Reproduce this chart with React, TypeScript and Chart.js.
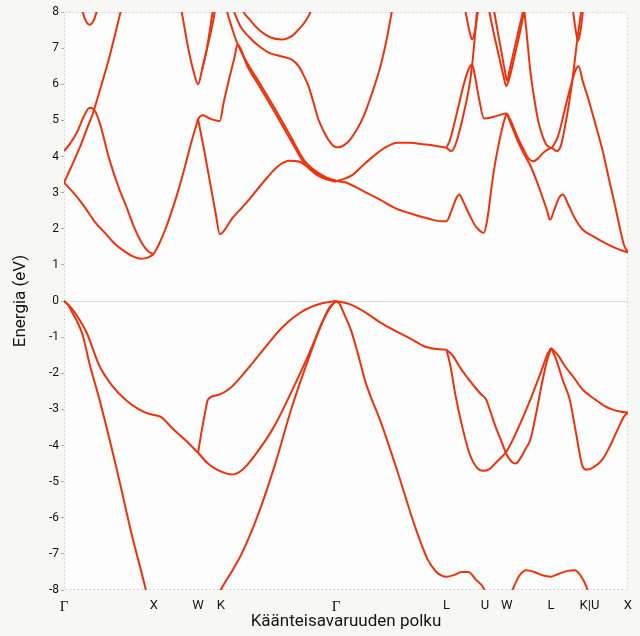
import React, { useEffect, useRef } from 'react';
import { Chart, registerables } from 'chart.js';

Chart.register(...registerables);

// k-path positions (path units) and labels of the high-symmetry points
const kPos = [0, 91, 136, 159, 276, 388, 427, 449, 494, 533, 572];
const kLabels = ['Γ', 'X', 'W', 'K', 'Γ', 'L', 'U', 'W', 'L', 'K|U', 'X'];

const eMin = -8;
const eMax = 8;

// ---- valence bands: [k, E (eV)] ----
const vA = [[0,0],[6,-0.15],[13,-0.4],[23,-0.88],[36,-1.8],[49,-2.35],[63,-2.75],[76,-3.0],[86,-3.12],[94,-3.17],[99,-3.22],[104,-3.35],[111,-3.55],[123,-3.85],[136,-4.2]];
const vG = [[0,0],[4,-0.1],[8,-0.3],[13,-0.55],[19,-0.95],[26,-1.75],[36,-2.73],[53,-4.6],[69,-6.5],[83,-8.0],[86,-8.4]];
const vB = [[136,-4.2],[139,-3.7],[143,-3.1],[146,-2.73],[156,-2.6],[169,-2.4],[181,-2.05],[201,-1.39],[221,-0.74],[241,-0.3],[261,-0.07],[276,0]];
const vC = [[136,-4.2],[146,-4.5],[156,-4.68],[171,-4.8],[181,-4.67],[194,-4.26],[214,-3.43],[234,-2.32],[248,-1.49],[261,-0.65],[269,-0.19],[276,0]];
const vD = [[154,-8.3],[159,-8.0],[171,-7.45],[181,-6.95],[198,-5.83],[214,-4.53],[231,-2.95],[248,-1.6],[261,-0.65],[271,-0.14],[276,0]];
const vE = [[276,0],[291,-0.1],[306,-0.32],[321,-0.6],[339,-0.87],[354,-1.08],[366,-1.26],[378,-1.33],[388,-1.35]];
const vF = [[276,0],[280,-0.1],[284,-0.35],[291,-0.8],[298,-1.45],[306,-2.26],[322,-3.4],[338,-4.7],[356,-6.24],[369,-7.16],[377,-7.48],[383,-7.6],[388,-7.63],[396,-7.58],[403,-7.5],[410,-7.5],[418,-7.72],[426,-7.97],[430,-8.3]];
const vH = [[451,-8.3],[455,-8.0],[462,-7.6],[469,-7.45],[477,-7.5],[486,-7.6],[494,-7.63],[502,-7.55],[511,-7.47],[518,-7.45],[524,-7.6],[530,-7.92],[534,-8.3]];
const vLA = [[388,-1.35],[394,-1.5],[402,-1.85],[410,-2.15],[416,-2.36],[423,-2.58],[428,-2.72],[433,-3.1],[438,-3.5],[443,-3.84],[449,-4.25],[454,-4.45],[458,-4.5],[463,-4.35],[468,-4.1],[473,-3.84],[479,-3.1],[485,-2.25],[490,-1.65],[494,-1.3]];
const vLB = [[388,-1.35],[392,-1.8],[397,-2.6],[403,-3.37],[411,-4.2],[419,-4.62],[425,-4.7],[431,-4.66],[439,-4.45],[449,-4.16],[461,-3.5],[473,-2.73],[484,-1.95],[490,-1.5],[494,-1.3]];
const vKC = [[494,-1.3],[499,-1.6],[506,-2.2],[513,-2.73],[519,-3.6],[526,-4.58],[530,-4.67],[536,-4.62],[546,-4.39],[555,-3.95],[563,-3.47],[568,-3.2],[572,-3.09]];
const vKD = [[494,-1.3],[501,-1.5],[508,-1.8],[516,-2.08],[526,-2.45],[539,-2.73],[548,-2.9],[556,-3.0],[564,-3.06],[572,-3.09]];

// ---- conduction bands: [k, E (eV)] ----
const c1 = [[0,3.28],[11,2.95],[21,2.6],[31,2.2],[41,1.9],[51,1.6],[61,1.38],[71,1.22],[78,1.17],[85,1.2],[91,1.3]];
const c2 = [[0,4.15],[6,4.35],[13,4.66],[20,5.1],[26,5.35],[31,5.28],[36,4.95],[46,3.92],[56,3.1],[63,2.63],[71,2.05],[78,1.65],[86,1.36],[91,1.3]];
const c3 = [[0,3.28],[8,3.75],[16,4.25],[23,4.75],[29,5.17],[36,5.8],[46,6.75],[52,7.4],[58,8.07],[60,8.3]];
const c4 = [[14,8.6],[18,8.1],[22,7.76],[26,7.65],[30,7.76],[34,8.1],[38,8.6]];
const c5 = [[91,1.3],[96,1.55],[103,2.0],[113,2.8],[121,3.55],[129,4.38],[134,4.85],[136,5.03],[141,5.14],[148,5.05],[154,5.0],[158,4.98],[162,5.5],[168,6.2],[173,6.75],[176,7.1],[186,6.5],[198,5.95],[214,5.22],[231,4.4],[244,3.8],[256,3.5],[266,3.37],[276,3.3]];
const c6 = [[116,8.4],[119,8.05],[126,7.0],[131,6.4],[136,6.0],[140,6.4],[145,7.0],[151,8.05],[153,8.4]];
const c6b = [[140,6.4],[146,7.1],[152,7.85],[155,8.4]];
const c7 = [[162,8.4],[165,8.05],[171,7.5],[176,7.12],[186,6.58],[198,6.05],[214,5.32],[231,4.5],[244,3.88],[256,3.58],[266,3.42],[276,3.33]];
const c8 = [[136,5.03],[142,4.2],[148,3.3],[154,2.4],[158,1.85],[171,2.3],[186,2.75],[204,3.35],[218,3.75],[229,3.88],[238,3.86],[248,3.7],[258,3.52],[268,3.38],[276,3.32]];
const c9 = [[178,8.4],[181,8.07],[188,7.8],[198,7.5],[209,7.3],[221,7.24],[231,7.33],[238,7.52],[245,7.75],[251,8.07],[254,8.4]];
const c10 = [[168,8.4],[172,8.05],[179,7.6],[188,7.3],[198,7.05],[208,6.87],[221,6.77],[231,6.68],[238,6.5],[243,6.25],[248,5.95],[253,5.5],[258,5.03],[263,4.72],[268,4.47],[273,4.3],[276,4.25]];
const c11 = [[276,4.25],[281,4.27],[288,4.4],[296,4.7],[304,5.12],[313,5.8],[321,6.5],[327,7.2],[333,8.07],[336,8.4]];
const c12 = [[276,3.32],[284,3.38],[293,3.5],[303,3.75],[314,4.01],[326,4.25],[338,4.38],[351,4.38],[364,4.34],[376,4.3],[388,4.24]];
const c13 = [[388,4.24],[392,4.5],[399,5.26],[406,6.05],[411,6.45],[414,6.55],[417,6.2],[421,5.6],[426,5.05],[436,5.1],[446,5.18],[449,5.2]];
const c14 = [[388,4.24],[393,4.15],[398,4.4],[406,5.26],[412,6.1],[415,6.8],[417,7.4],[419,8.05],[421,8.5]];
const c15 = [[404,8.4],[407,8.05],[411,7.5],[414,7.24],[417,7.5],[420,8.05],[422,8.4]];
const c16 = [[276,3.32],[286,3.28],[296,3.15],[308,2.98],[321,2.8],[336,2.57],[354,2.4],[371,2.27],[383,2.21],[388,2.21],[393,2.5],[398,2.85],[401,2.95],[405,2.75],[411,2.4],[418,2.05],[424,1.9],[426,1.89],[429,2.2],[433,3.0],[436,3.6],[441,4.35],[446,4.95],[449,5.2]];
const c17 = [[449,5.2],[454,4.85],[460,4.45],[466,4.1],[473,3.75],[479,3.35],[485,2.9],[490,2.5],[493,2.25],[497,2.5],[502,2.85],[506,2.95],[511,2.7],[518,2.3],[526,1.98],[536,1.8],[549,1.6],[559,1.47],[569,1.37],[572,1.35]];
const c18 = [[449,5.2],[453,5.0],[459,4.6],[466,4.2],[472,3.92],[476,3.87],[481,3.95],[486,4.1],[491,4.2],[495,4.24]];
const c19 = [[495,4.24],[501,4.55],[508,5.3],[514,5.95],[519,6.4],[522,6.5],[526,6.1],[532,5.58],[539,4.9],[546,4.2],[553,3.35],[559,2.63],[564,2.0],[568,1.55],[572,1.35]];
const c20 = [[495,4.24],[500,4.15],[504,4.3],[508,4.8],[513,5.6],[517,6.4],[520,7.1],[523,7.7],[525,8.1],[527,8.5]];
const c21 = [[513,8.4],[516,8.07],[519,7.5],[521.5,7.2],[524,7.5],[526.5,8.07],[528,8.4]];
const c22 = [[429,8.4],[431,8.07],[436,7.4],[441,6.8],[446,6.2],[448.5,5.95],[453,6.3],[458,6.9],[463,7.5],[467,8.07],[469,8.4]];
const c23 = [[434,8.4],[436,8.07],[440,7.45],[444,6.85],[447,6.4],[449.5,6.1],[452,6.4],[457,7.0],[462,7.6],[466,8.07],[468,8.4]];
const c24 = [[464,8.4],[467,8.0],[470,7.2],[473,6.37],[477,5.6],[481,4.98],[485,4.6],[489,4.34],[493,4.25],[495,4.24]];

const bands = [vA, vG, vB, vC, vD, vE, vF, vH, vLA, vLB, vKC, vKD,
  c1, c2, c3, c4, c5, c6, c6b, c7, c8, c9, c10, c11, c12, c13, c14, c15, c16, c17, c18, c19, c20, c21, c22, c23, c24];

const lineColor = '#f0320c';

const bgPlugin = {
  id: 'bgPlugin',
  beforeDraw(chart: any) {
    const { ctx, chartArea: a } = chart;
    ctx.save();
    ctx.fillStyle = '#f7f7f5';
    ctx.fillRect(0, 0, chart.width, chart.height);
    ctx.fillStyle = '#fdfdfd';
    ctx.fillRect(a.left, a.top, a.right - a.left, a.bottom - a.top);
    ctx.restore();
  },
  beforeDatasetsDraw(chart: any) {
    const { ctx, chartArea: a } = chart;
    ctx.save();
    ctx.strokeStyle = 'rgba(215,195,195,0.8)';
    ctx.lineWidth = 1;
    ctx.setLineDash([2, 2]);
    ctx.strokeRect(a.left + 0.5, a.top + 0.5, a.right - a.left - 1, a.bottom - a.top - 1);
    ctx.restore();
  },
};

export default function App() {
  const ref = useRef<HTMLCanvasElement>(null);
  useEffect(() => {
    if (!ref.current) return;
    const chart = new Chart(ref.current, {
      type: 'scatter',
      data: {
        datasets: bands.map((b, i) => ({
          label: 'band' + i,
          data: b.map(([x, y]) => ({ x, y })),
          showLine: true,
          borderColor: lineColor,
          backgroundColor: lineColor,
          borderWidth: 2,
          pointRadius: 0,
          pointHoverRadius: 0,
          cubicInterpolationMode: 'monotone',
          fill: false,
        })),
      },
      plugins: [bgPlugin],
      options: {
        animation: false,
        responsive: false,
        devicePixelRatio: 1,
        layout: { padding: { left: 0, right: 4, top: 12, bottom: 0 } },
        plugins: { legend: { display: false }, tooltip: { enabled: false } },
        scales: {
          x: {
            type: 'linear',
            min: kPos[0],
            max: kPos[kPos.length - 1],
            afterBuildTicks: (axis: any) => {
              axis.ticks = kPos.map((v) => ({ value: v }));
            },
            afterFit: (s: any) => { s.height = 46; },
            ticks: {
              autoSkip: false,
              maxRotation: 0,
              padding: 8,
              color: '#151515',
              callback: (v: any) => {
                const i = kPos.indexOf(Number(v));
                return i >= 0 ? kLabels[i] : '';
              },
              font: (c: any) =>
                c.tick && kLabels[kPos.indexOf(c.tick.value)] === 'Γ'
                  ? { family: 'Liberation Serif', size: 15 }
                  : { family: 'Roboto', size: 13 },
            },
            grid: { display: false, drawTicks: false },
            border: { display: false },
            title: {
              display: true,
              text: 'Käänteisavaruuden polku',
              color: '#151515',
              font: { family: 'Roboto', size: 17 },
              padding: { top: 0, bottom: 4 },
            },
          },
          y: {
            type: 'linear',
            min: eMin,
            max: eMax,
            afterFit: (s: any) => { s.width = 64; },
            ticks: {
              stepSize: 1,
              padding: 2,
              color: '#151515',
              font: { family: 'Roboto', size: 12 },
            },
            grid: {
              color: (c: any) => (c.tick && c.tick.value === 0 ? 'rgba(190,190,190,0.55)' : 'rgba(0,0,0,0)'),
              tickColor: 'rgba(140,140,140,0.7)',
              tickLength: 3,
              drawTicks: true,
            },
            border: { display: false },
            title: {
              display: true,
              text: 'Energia (eV)',
              color: '#151515',
              font: { family: 'Roboto', size: 17 },
              padding: { top: 11, bottom: 0 },
            },
          },
        },
      },
    } as any);
    return () => chart.destroy();
  }, []);

  return (
    <div style={{ position: 'fixed', left: 0, top: 0, width: 640, height: 636, background: '#f7f7f5' }}>
      <canvas ref={ref} width={640} height={636} style={{ display: 'block', width: 640, height: 636 }} />
    </div>
  );
}
